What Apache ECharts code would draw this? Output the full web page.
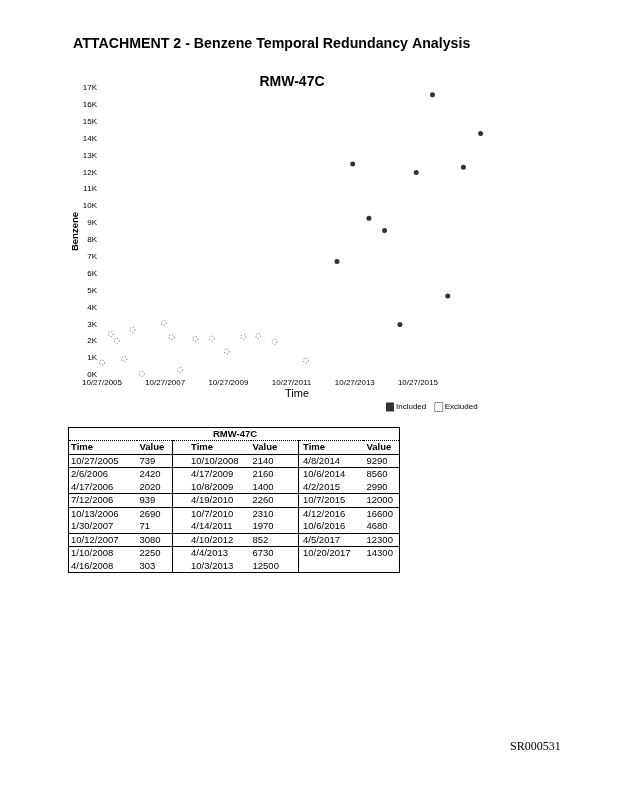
<!DOCTYPE html>
<html>
<head>
<meta charset="utf-8">
<script src="https://cdn.jsdelivr.net/npm/echarts@6/dist/echarts.min.js"></script>
<style>
  html, body { margin: 0; padding: 0; background: #fff; }
  #chart { position: absolute; left: 0; top: 0; width: 618px; height: 800px; }
  #tbl { position: absolute; left: 68px; top: 427px; border-collapse: collapse; font-family: "Liberation Sans", Arial, sans-serif; font-size: 9.5px; color: #000; border: 1px solid #000; table-layout: fixed; }
  #tbl td { padding: 0 0 0 2px; height: 12.5px; line-height: 12px; white-space: nowrap; overflow: hidden; }
  #tbl .hd td { height: 11px; font-weight: bold; text-align: center; border-bottom: 1px dotted #000; }
  #tbl .ch td { height: 12.5px; font-weight: bold; border-bottom: 1px solid #000; }
  #tbl tr.sep td { border-bottom: 1px solid #000; }
  #tbl td.g { border-left: 1px solid #000; }
  #footer { position: absolute; left: 510px; top: 739px; font-family: "Liberation Serif", "Times New Roman", serif; font-size: 12px; color: #000; }
</style>
</head>
<body>
<div id="chart"></div>
<table id="tbl"></table>
<div id="footer">SR000531</div>
<script>
// ---- data ----
const pageTitle = 'ATTACHMENT 2 - Benzene Temporal Redundancy Analysis';
const wellName = 'RMW-47C';
const sampleDates = ['10/27/2005','2/6/2006','4/17/2006','7/12/2006','10/13/2006','1/30/2007','10/12/2007','1/10/2008','4/16/2008',
  '10/10/2008','4/17/2009','10/8/2009','4/19/2010','10/7/2010','4/14/2011','4/10/2012','4/4/2013','10/3/2013',
  '4/8/2014','10/6/2014','4/2/2015','10/7/2015','4/12/2016','10/6/2016','4/5/2017','10/20/2017'];
const benzeneValues = [739,2420,2020,939,2690,71,3080,2250,303,
  2140,2160,1400,2260,2310,1970,852,6730,12500,
  9290,8560,2990,12000,16600,4680,12300,14300];
const sampleStatus = ['E','E','E','E','E','E','E','E','E',
  'E','E','E','E','E','E','E','I','I',
  'I','I','I','I','I','I','I','I'];
const xTickLabels = ['10/27/2005','10/27/2007','10/27/2009','10/27/2011','10/27/2013','10/27/2015'];
const xAxisMin = '10/27/2005';
const xAxisMax = '3/1/2018';
const tableGroupSizes = [9, 9, 8];
const tableSepAfterRows = [0, 2, 3, 5, 6, 8];

function ts(s) { const p = s.split('/').map(Number); return Date.UTC(p[2], p[0]-1, p[1]); }
function fmt(v) { const d = new Date(v); return (d.getUTCMonth()+1) + '/' + d.getUTCDate() + '/' + d.getUTCFullYear(); }

const incData = [], excData = [];
sampleDates.forEach((d, i) => {
  (sampleStatus[i] === 'I' ? incData : excData).push([ts(d), benzeneValues[i]]);
});

// ---- table ----
(function buildTable() {
  const tbl = document.getElementById('tbl');
  const widths = [68, 36, 78, 48, 64, 37];
  const pads = [2, 3, 18, 2, 4, 4];
  let html = '<colgroup>' + widths.map(w => '<col style="width:' + w + 'px">').join('') + '</colgroup>';
  html += '<tr class="hd"><td colspan="6">' + wellName + '</td></tr>';
  html += '<tr class="ch">';
  for (let g = 0; g < 3; g++) {
    html += '<td class="' + (g ? 'g' : '') + '" style="padding-left:' + pads[g*2] + 'px">Time</td>';
    html += '<td style="padding-left:' + pads[g*2+1] + 'px">Value</td>';
  }
  html += '</tr>';
  const starts = [0, tableGroupSizes[0], tableGroupSizes[0] + tableGroupSizes[1]];
  for (let r = 0; r < 9; r++) {
    html += '<tr class="' + (tableSepAfterRows.includes(r) ? 'sep' : '') + '">';
    for (let g = 0; g < 3; g++) {
      const idx = starts[g] + r;
      const has = r < tableGroupSizes[g];
      html += '<td class="' + (g ? 'g' : '') + '" style="padding-left:' + pads[g*2] + 'px">' + (has ? sampleDates[idx] : '') + '</td>';
      html += '<td style="padding-left:' + pads[g*2+1] + 'px">' + (has ? benzeneValues[idx] : '') + '</td>';
    }
    html += '</tr>';
  }
  tbl.innerHTML = html;
})();

// ---- chart ----
const chart = echarts.init(document.getElementById('chart'), null, { renderer: 'canvas' });
const font = '"Liberation Sans", Arial, sans-serif';
chart.setOption({
  animation: false,
  backgroundColor: '#fff',
  textStyle: { fontFamily: font, color: '#000' },
  title: [
    { text: pageTitle, left: 73, top: 37, padding: 0, textStyle: { fontSize: 14.2, fontWeight: 'bold', color: '#000', fontFamily: font } },
    { text: wellName, left: 292, textAlign: 'center', top: 75, padding: 0, textStyle: { fontSize: 14, fontWeight: 'bold', color: '#000', fontFamily: font } }
  ],
  legend: {
    left: 386, top: 402, itemWidth: 8, itemHeight: 9, itemGap: 8, padding: 0,
    textStyle: { fontSize: 8, color: '#000', fontFamily: font, padding: [0, 0, 0, -3] },
    data: [
      { name: 'Included', icon: 'rect', itemStyle: { color: '#000', borderWidth: 0 } },
      { name: 'Excluded', icon: 'rect', itemStyle: { color: '#fff', borderColor: '#000', borderWidth: 1, borderType: 'dotted' } }
    ]
  },
  grid: { left: 102, top: 88, width: 390, height: 287 },
  xAxis: {
    type: 'value',
    min: ts(xAxisMin), max: ts(xAxisMax),
    name: 'Time', nameLocation: 'middle', nameGap: 13,
    nameTextStyle: { fontSize: 11, color: '#000', fontFamily: font },
    axisLine: { show: false }, axisTick: { show: false }, splitLine: { show: false },
    axisLabel: {
      customValues: xTickLabels.map(ts),
      formatter: v => fmt(v),
      fontSize: 8, color: '#000', margin: 4, fontFamily: font
    }
  },
  yAxis: {
    type: 'value', min: 0, max: 17000, interval: 1000,
    name: 'Benzene', nameLocation: 'middle', nameGap: 22, nameRotate: 90, nameMoveOverlap: false,
    nameTextStyle: { fontSize: 9.5, fontWeight: 'bold', color: '#000', fontFamily: font },
    axisLine: { show: false }, axisTick: { show: false }, splitLine: { show: false },
    axisLabel: { formatter: v => (v / 1000) + 'K', fontSize: 8, color: '#000', margin: 5, fontFamily: font }
  },
  series: [
    { name: 'Included', type: 'scatter', data: incData, symbol: 'circle', symbolSize: 5,
      itemStyle: { color: '#000' } },
    { name: 'Excluded', type: 'scatter', data: excData, symbol: 'circle', symbolSize: 5,
      itemStyle: { color: 'rgba(255,255,255,0)', borderColor: '#000', borderWidth: 0.8, borderType: [1, 2] } }
  ]
});
</script>
</body>
</html>
